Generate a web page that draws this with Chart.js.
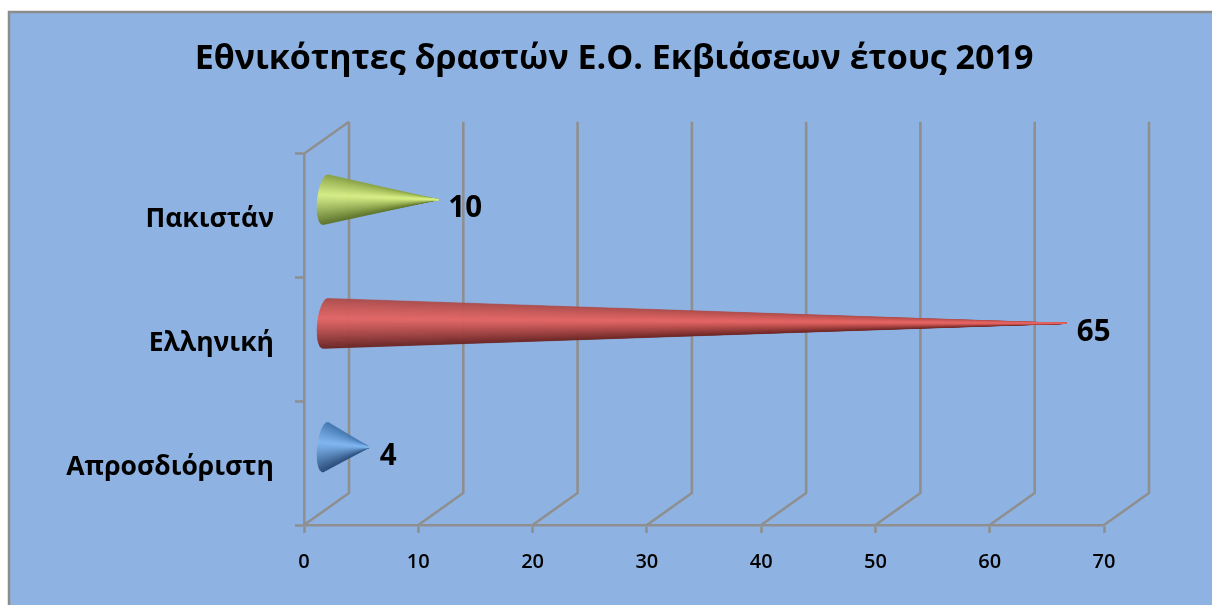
<!DOCTYPE html>
<html>
<head>
<meta charset="utf-8">
<style>html,body{margin:0;padding:0;background:#fff;overflow:hidden}#w{width:1212px;height:605px;position:relative}</style>
<script src="https://cdn.jsdelivr.net/npm/chart.js@4/dist/chart.umd.min.js"></script>
</head>
<body>
<div id="w"><canvas id="c"></canvas></div>
<script>
const categories = ["Πακιστάν", "Ελληνική", "Απροσδιόριστη"];
const values = [10, 65, 4];
const xTicks = [0, 10, 20, 30, 40, 50, 60, 70];
const chartTitle = "Εθνικότητες δραστών Ε.Ο. Εκβιάσεων έτους 2019";
// cone shading: [edge near top, highlight, edge near bottom]
const coneShades = [
  ["#869e3c", "#d6ee84", "#5c7226"],
  ["#a94a48", "#e46563", "#6a2422"],
  ["#3f73ad", "#80b6ef", "#2a4c7a"]
];
const GRID = "#8f8f8f", BG = "#8EB3E2";
const DX = 45, DY = 32;

function hex(c){return [1,3,5].map(i=>parseInt(c.substr(i,2),16));}
function mix(a,b,t){const A=hex(a),B=hex(b);return `rgb(${A.map((v,i)=>Math.round(v+(B[i]-v)*t)).join(",")})`;}
function shade(s,u){ // u 0 top .. 1 bottom
  const h=0.4;
  return u<h ? mix(s[0],s[1],Math.pow(u/h,0.8)) : mix(s[1],s[2],Math.pow((u-h)/(1-h),1.1));
}

const scene = {
  id:"scene",
  beforeDraw(chart){
    const {ctx,width,height}=chart;
    ctx.save();
    ctx.fillStyle="#fff";ctx.fillRect(0,0,width,height);
    ctx.fillStyle=BG;ctx.fillRect(9,12,width-9,height-12);
    ctx.strokeStyle="#8c8c8c";ctx.lineWidth=2.5;
    ctx.beginPath();ctx.moveTo(9,height);ctx.lineTo(9,12);ctx.lineTo(width,12);ctx.stroke();
    ctx.restore();
  },
  beforeDatasetsDraw(chart){
    const {ctx,chartArea:a,scales:{x}}=chart;
    ctx.save();
    ctx.strokeStyle=GRID;ctx.lineWidth=2.6;ctx.lineJoin="round";
    xTicks.forEach(v=>{
      const px=x.getPixelForValue(v);
      ctx.beginPath();
      ctx.moveTo(px,a.bottom);
      ctx.lineTo(px+DX,a.bottom-DY);
      ctx.lineTo(px+DX,a.top-DY);
      ctx.stroke();
    });
    ctx.beginPath();
    ctx.moveTo(a.left,a.top);
    ctx.lineTo(a.left+DX,a.top-DY);
    ctx.stroke();
    ctx.restore();
  },
  afterDatasetsDraw(chart){
    const {ctx}=chart;
    const meta=chart.getDatasetMeta(0);
    ctx.save();
    meta.data.forEach((el,i)=>{
      const tipX=el.x+20, cy=el.y-16, ry=el.height/2, rx=8;
      const baseX=el.base+21;
      const s=coneShades[i];
      const N=60;
      const order=[];
      const mid=Math.round(N*0.4);
      for(let k=0;k<N;k++) order.push(k);
      order.sort((a,b)=>Math.abs(b-mid)-Math.abs(a-mid));
      order.forEach(k=>{
        const t0=-1+2*k/N,t1=-1+2*(k+1)/N;
        const px=t=>baseX-Math.sqrt(Math.max(0,1-t*t))*rx-t*2.5;
        const c=shade(s,(k+.5)/N);
        ctx.fillStyle=c;ctx.strokeStyle=c;ctx.lineWidth=0.5;
        ctx.beginPath();
        ctx.moveTo(tipX,cy);
        ctx.lineTo(px(t0),cy+t0*ry);
        ctx.lineTo(px(t1),cy+t1*ry);
        ctx.closePath();ctx.fill();ctx.stroke();
      });
      ctx.fillStyle="#000";
      ctx.font="bold 29.5px 'Open Sans'";
      ctx.textAlign="left";ctx.textBaseline="middle";
      ctx.fillText(String(values[i]),tipX+10,cy+9);
    });
    ctx.restore();
  }
};

new Chart(document.getElementById("c"),{
  type:"bar",
  data:{labels:categories,datasets:[{data:values,backgroundColor:"rgba(0,0,0,0)",borderWidth:0,barThickness:50}]},
  plugins:[scene],
  options:{
    indexAxis:"y",responsive:true,maintainAspectRatio:false,animation:false,
    layout:{padding:{left:16,right:0,top:0,bottom:0}},
    plugins:{
      legend:{display:false},tooltip:{enabled:false},
      title:{display:true,text:chartTitle,color:"#000",font:{family:"'Open Sans'",size:34,weight:"bold"},padding:{top:39,bottom:74}}
    },
    scales:{
      x:{type:"linear",min:0,max:70,position:"bottom",
        afterFit(s){s.height=80;},
        afterBuildTicks(s){s.ticks=xTicks.map(v=>({value:v}));},
        border:{display:true,color:GRID,width:2.6},
        grid:{drawOnChartArea:false,drawTicks:true,tickLength:8,tickWidth:2.6,color:GRID},
        ticks:{color:"#000",maxRotation:0,autoSkip:false,padding:17,font:{family:"'Open Sans'",size:20,weight:"600"}}},
      y:{type:"category",position:"left",
        afterFit(s){s.width=288;},
        border:{display:true,color:GRID,width:2.6},
        grid:{drawOnChartArea:false,drawTicks:true,tickLength:9,tickWidth:2.6,color:GRID,offset:true},
        ticks:{color:"#000",padding:21,labelOffset:4,font:{family:"'Open Sans'",size:26.5,weight:"bold"}}},
      pad:{type:"linear",position:"right",axis:"y",
        afterFit(s){s.width=108;},
        border:{display:false},grid:{display:false},ticks:{display:false}}
    }
  }
});
</script>
</body>
</html>
